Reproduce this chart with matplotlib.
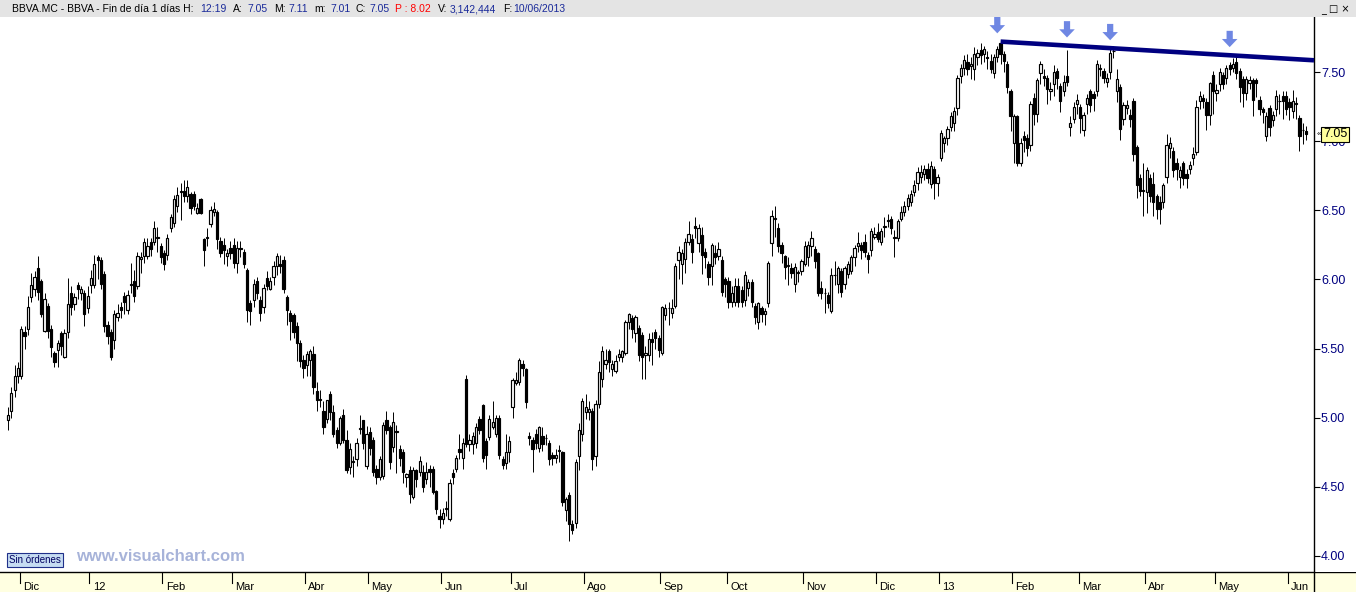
import matplotlib
matplotlib.use('Agg')
import numpy as np
import matplotlib.pyplot as plt
from matplotlib.patches import Rectangle

plt.rcParams['font.family'] = ['Liberation Sans', 'DejaVu Sans']

# BBVA.MC daily candles, 25/11/2011 - 10/06/2013 (one entry per trading day)
opens = [
    4.98, 5.05, 5.20, 5.30, 5.30, 5.62, 5.64, 5.87, 5.93, 6.08,
    5.99, 5.63, 5.81, 5.64, 5.47, 5.49, 5.61, 5.44, 5.62, 5.90,
    5.82, 5.96, 5.90, 5.90, 5.79, 5.96, 5.96, 6.16, 6.14, 6.04,
    5.67, 5.62, 5.56, 5.73, 5.80, 5.88, 5.78, 5.96, 5.99, 5.95,
    6.15, 6.17, 6.17, 6.27, 6.27, 6.30, 6.24, 6.19, 6.18, 6.37,
    6.41, 6.53, 6.63, 6.64, 6.60, 6.62, 6.62, 6.48, 6.58, 6.29,
    6.30, 6.40, 6.49, 6.49, 6.28, 6.25, 6.17, 6.23, 6.25, 6.12,
    6.23, 6.20, 6.07, 5.83, 5.85, 5.99, 5.85, 5.80, 6.01, 5.93,
    6.02, 6.10, 6.11, 6.14, 5.87, 5.76, 5.74, 5.66, 5.54, 5.42,
    5.38, 5.42, 5.46, 5.19, 5.13, 5.05, 4.99, 5.17, 5.04, 4.91,
    4.82, 5.02, 4.84, 4.64, 4.68, 4.70, 4.92, 4.98, 4.65, 4.90,
    4.84, 4.63, 4.57, 4.58, 4.98, 4.93, 4.79, 4.90, 4.77, 4.75,
    4.57, 4.62, 4.43, 4.62, 4.61, 4.61, 4.56, 4.63, 4.63, 4.47,
    4.29, 4.27, 4.34, 4.27, 4.60, 4.63, 4.77, 4.71, 5.28, 4.81,
    4.81, 4.82, 4.99, 5.09, 4.83, 4.86, 4.93, 4.88, 5.00, 4.70,
    4.67, 4.75, 5.08, 5.25, 5.26, 5.39, 5.35, 4.87, 4.84, 4.88,
    4.78, 4.87, 4.85, 4.82, 4.73, 4.71, 4.76, 4.75, 4.33, 4.44,
    4.23, 4.24, 4.72, 4.88, 5.04, 5.04, 5.05, 4.72, 5.10, 5.28,
    5.39, 5.48, 5.35, 5.34, 5.44, 5.44, 5.47, 5.69, 5.72, 5.61,
    5.65, 5.60, 5.45, 5.45, 5.57, 5.62, 5.58, 5.47, 5.74, 5.79,
    5.76, 5.81, 6.14, 6.11, 6.15, 6.27, 6.29, 6.39, 6.26, 6.32,
    6.20, 6.11, 6.10, 6.19, 6.17, 6.14, 6.00, 5.99, 5.84, 5.84,
    5.95, 5.92, 5.85, 5.94, 5.98, 5.81, 5.69, 5.79, 5.75, 5.83,
    6.26, 6.44, 6.37, 6.25, 6.17, 6.10, 6.08, 5.97, 6.05, 6.06,
    6.11, 6.16, 6.24, 6.22, 6.19, 5.94, 5.90, 5.89, 5.77, 6.03,
    5.97, 6.06, 5.97, 6.04, 6.06, 6.16, 6.24, 6.25, 6.27, 6.18,
    6.21, 6.31, 6.34, 6.27, 6.38, 6.43, 6.44, 6.30, 6.30, 6.44,
    6.49, 6.53, 6.56, 6.63, 6.70, 6.74, 6.76, 6.80, 6.69, 6.80,
    6.70, 6.88, 6.99, 7.02, 7.10, 7.13, 7.24, 7.47, 7.53, 7.57,
    7.54, 7.52, 7.61, 7.66, 7.63, 7.61, 7.58, 7.49, 7.61, 7.71,
    7.63, 7.56, 7.36, 6.99, 7.18, 6.84, 7.04, 7.02, 6.97, 7.31,
    7.20, 7.49, 7.47, 7.46, 7.36, 7.41, 7.51, 7.40, 7.36, 7.47,
    7.10, 7.16, 7.27, 7.25, 7.08, 7.27, 7.36, 7.34, 7.36, 7.52,
    7.51, 7.43, 7.50, 7.65, 7.36, 7.39, 7.16, 7.24, 7.19, 7.29,
    6.96, 6.73, 6.64, 6.63, 6.73, 6.69, 6.60, 6.56, 6.56, 6.74,
    6.95, 6.93, 6.84, 6.74, 6.84, 6.76, 6.80, 6.88, 6.92, 7.29,
    7.31, 7.28, 7.19, 7.48, 7.35, 7.41, 7.48, 7.46, 7.55, 7.53,
    7.57, 7.51, 7.45, 7.35, 7.42, 7.44, 7.44, 7.30, 7.23, 7.04,
    7.24, 7.15, 7.23, 7.29, 7.33, 7.33, 7.28, 7.22, 7.27, 7.17,
    7.08, 7.07,
]
highs = [
    5.08, 5.22, 5.38, 5.40, 5.66, 5.66, 5.88, 6.05, 6.06, 6.17,
    6.00, 5.90, 5.83, 5.67, 5.48, 5.56, 5.63, 5.64, 6.01, 5.95,
    5.90, 5.98, 5.95, 5.92, 5.95, 6.07, 6.18, 6.18, 6.16, 6.06,
    5.70, 5.64, 5.78, 5.82, 5.84, 5.91, 5.92, 6.12, 6.07, 6.20,
    6.20, 6.30, 6.30, 6.30, 6.42, 6.38, 6.26, 6.21, 6.33, 6.47,
    6.61, 6.67, 6.70, 6.72, 6.72, 6.63, 6.64, 6.55, 6.59, 6.30,
    6.37, 6.53, 6.56, 6.50, 6.31, 6.30, 6.22, 6.28, 6.30, 6.28,
    6.28, 6.22, 6.08, 5.85, 6.00, 6.02, 5.88, 5.97, 6.06, 6.02,
    6.13, 6.19, 6.18, 6.17, 5.89, 5.78, 5.76, 5.69, 5.56, 5.45,
    5.48, 5.50, 5.52, 5.26, 5.20, 5.12, 5.13, 5.19, 5.09, 4.93,
    5.01, 5.06, 4.91, 4.82, 4.72, 4.85, 5.02, 4.98, 4.94, 4.93,
    4.86, 4.66, 4.72, 4.97, 5.05, 4.95, 5.04, 4.95, 4.80, 4.77,
    4.60, 4.65, 4.64, 4.63, 4.72, 4.66, 4.68, 4.66, 4.65, 4.48,
    4.34, 4.35, 4.40, 4.56, 4.63, 4.73, 4.88, 4.85, 5.31, 4.88,
    4.90, 4.96, 5.01, 5.10, 4.85, 5.02, 5.12, 5.02, 5.02, 4.72,
    4.88, 4.87, 5.29, 5.33, 5.43, 5.42, 5.36, 4.90, 4.86, 4.92,
    4.94, 4.93, 4.88, 4.84, 4.75, 4.77, 4.80, 4.76, 4.43, 4.46,
    4.26, 4.70, 4.96, 5.14, 5.17, 5.12, 5.07, 5.13, 5.41, 5.52,
    5.50, 5.50, 5.42, 5.45, 5.50, 5.49, 5.71, 5.76, 5.74, 5.74,
    5.67, 5.62, 5.52, 5.61, 5.62, 5.64, 5.60, 5.81, 5.82, 5.84,
    5.86, 6.12, 6.24, 6.22, 6.30, 6.42, 6.33, 6.45, 6.40, 6.38,
    6.23, 6.13, 6.26, 6.25, 6.27, 6.17, 6.02, 6.02, 5.95, 6.01,
    6.01, 5.95, 6.06, 6.00, 6.00, 5.83, 5.84, 5.81, 5.79, 6.13,
    6.50, 6.53, 6.41, 6.27, 6.18, 6.16, 6.12, 6.12, 6.07, 6.15,
    6.28, 6.28, 6.35, 6.24, 6.20, 5.99, 5.94, 5.91, 6.08, 6.13,
    6.10, 6.08, 6.10, 6.13, 6.18, 6.25, 6.34, 6.27, 6.33, 6.20,
    6.37, 6.38, 6.41, 6.37, 6.45, 6.47, 6.46, 6.36, 6.44, 6.53,
    6.57, 6.62, 6.65, 6.72, 6.81, 6.83, 6.83, 6.84, 6.86, 6.82,
    6.76, 7.08, 7.04, 7.11, 7.21, 7.25, 7.48, 7.56, 7.62, 7.63,
    7.61, 7.68, 7.67, 7.71, 7.69, 7.65, 7.63, 7.63, 7.69, 7.73,
    7.65, 7.58, 7.38, 7.20, 7.19, 7.02, 7.07, 7.05, 7.29, 7.35,
    7.46, 7.58, 7.52, 7.48, 7.43, 7.55, 7.53, 7.42, 7.48, 7.66,
    7.18, 7.28, 7.34, 7.27, 7.21, 7.34, 7.38, 7.36, 7.59, 7.56,
    7.53, 7.49, 7.67, 7.69, 7.52, 7.41, 7.28, 7.30, 7.23, 7.31,
    6.97, 6.76, 6.84, 6.81, 6.76, 6.78, 6.62, 6.60, 6.70, 7.05,
    7.03, 6.96, 6.88, 6.82, 6.86, 6.80, 6.86, 6.96, 7.30, 7.36,
    7.34, 7.31, 7.43, 7.51, 7.41, 7.53, 7.50, 7.55, 7.57, 7.60,
    7.62, 7.53, 7.47, 7.47, 7.47, 7.46, 7.46, 7.33, 7.25, 7.21,
    7.26, 7.22, 7.37, 7.34, 7.36, 7.36, 7.31, 7.37, 7.32, 7.19,
    7.13, 7.11,
]
lows = [
    4.91, 5.00, 5.15, 5.25, 5.28, 5.50, 5.60, 5.84, 5.88, 5.85,
    5.73, 5.62, 5.58, 5.44, 5.37, 5.37, 5.45, 5.43, 5.58, 5.74,
    5.78, 5.86, 5.85, 5.66, 5.76, 5.90, 5.94, 6.00, 5.93, 5.62,
    5.53, 5.42, 5.50, 5.70, 5.72, 5.75, 5.75, 5.90, 5.84, 5.93,
    6.05, 6.12, 6.15, 6.17, 6.25, 6.20, 6.12, 6.07, 6.14, 6.34,
    6.38, 6.49, 6.43, 6.56, 6.56, 6.47, 6.50, 6.47, 6.47, 6.10,
    6.24, 6.38, 6.46, 6.22, 6.16, 6.11, 6.10, 6.15, 6.08, 6.05,
    6.16, 6.08, 5.69, 5.67, 5.80, 5.86, 5.70, 5.76, 5.92, 5.92,
    5.96, 6.03, 6.05, 5.90, 5.67, 5.56, 5.58, 5.41, 5.37, 5.29,
    5.30, 5.30, 5.17, 5.05, 5.08, 4.88, 4.96, 4.98, 4.86, 4.78,
    4.80, 4.82, 4.60, 4.59, 4.57, 4.65, 4.88, 4.77, 4.63, 4.73,
    4.58, 4.52, 4.55, 4.56, 4.88, 4.63, 4.75, 4.60, 4.65, 4.53,
    4.50, 4.38, 4.41, 4.50, 4.58, 4.46, 4.52, 4.50, 4.45, 4.30,
    4.20, 4.23, 4.29, 4.25, 4.52, 4.61, 4.70, 4.63, 4.79, 4.76,
    4.74, 4.78, 4.88, 4.68, 4.63, 4.84, 4.92, 4.86, 4.70, 4.63,
    4.63, 4.68, 5.00, 5.24, 5.24, 5.30, 5.07, 4.80, 4.61, 4.77,
    4.75, 4.76, 4.80, 4.66, 4.66, 4.67, 4.68, 4.36, 4.25, 4.11,
    4.16, 4.20, 4.62, 4.83, 4.99, 4.98, 4.62, 4.65, 5.07, 5.22,
    5.35, 5.33, 5.30, 5.32, 5.41, 5.40, 5.45, 5.64, 5.58, 5.55,
    5.41, 5.28, 5.28, 5.41, 5.38, 5.50, 5.44, 5.45, 5.71, 5.67,
    5.72, 5.79, 6.00, 5.97, 6.05, 6.25, 6.12, 6.30, 6.20, 6.04,
    6.08, 5.96, 5.96, 6.11, 6.14, 5.88, 5.87, 5.79, 5.80, 5.81,
    5.80, 5.80, 5.81, 5.88, 5.80, 5.68, 5.64, 5.69, 5.67, 5.80,
    6.17, 6.31, 6.20, 6.12, 6.00, 5.96, 6.01, 5.91, 5.98, 6.03,
    6.10, 6.10, 6.17, 6.08, 5.88, 5.86, 5.76, 5.79, 5.76, 5.96,
    5.90, 5.87, 5.93, 6.01, 6.04, 6.10, 6.20, 6.15, 6.16, 6.05,
    6.17, 6.29, 6.27, 6.25, 6.31, 6.38, 6.33, 6.16, 6.28, 6.42,
    6.46, 6.50, 6.53, 6.60, 6.65, 6.70, 6.72, 6.70, 6.66, 6.58,
    6.60, 6.86, 6.92, 6.97, 7.07, 7.07, 7.19, 7.42, 7.48, 7.48,
    7.45, 7.44, 7.55, 7.56, 7.57, 7.52, 7.49, 7.46, 7.57, 7.56,
    7.50, 7.35, 7.07, 6.84, 6.82, 6.82, 6.92, 6.89, 6.93, 7.12,
    7.14, 7.41, 7.40, 7.27, 7.30, 7.33, 7.38, 7.21, 7.33, 7.40,
    7.04, 7.13, 7.20, 7.06, 7.04, 7.20, 7.21, 7.22, 7.33, 7.47,
    7.42, 7.39, 7.45, 7.60, 7.28, 7.01, 7.12, 7.20, 7.10, 6.86,
    6.59, 6.60, 6.46, 6.48, 6.56, 6.46, 6.44, 6.40, 6.52, 6.70,
    6.88, 6.74, 6.72, 6.66, 6.68, 6.66, 6.76, 6.83, 6.90, 7.23,
    7.24, 7.08, 7.12, 7.20, 7.29, 7.36, 7.38, 7.41, 7.48, 7.50,
    7.45, 7.28, 7.25, 7.30, 7.38, 7.18, 7.32, 7.19, 7.13, 7.00,
    7.04, 7.11, 7.18, 7.20, 7.16, 7.19, 7.15, 7.17, 7.16, 6.93,
    6.98, 7.01,
]
closes = [
    5.02, 5.18, 5.30, 5.36, 5.64, 5.59, 5.80, 5.96, 6.02, 5.91,
    5.75, 5.86, 5.63, 5.51, 5.40, 5.54, 5.52, 5.61, 5.82, 5.80,
    5.87, 5.93, 5.93, 5.75, 5.88, 6.01, 6.11, 6.14, 5.97, 5.66,
    5.59, 5.44, 5.75, 5.76, 5.78, 5.84, 5.89, 5.97, 5.88, 6.17,
    6.16, 6.27, 6.24, 6.22, 6.37, 6.31, 6.16, 6.11, 6.30, 6.45,
    6.58, 6.61, 6.64, 6.60, 6.67, 6.52, 6.53, 6.52, 6.48, 6.21,
    6.30, 6.50, 6.51, 6.29, 6.19, 6.21, 6.19, 6.19, 6.12, 6.23,
    6.22, 6.11, 5.78, 5.77, 5.97, 5.90, 5.76, 5.94, 5.95, 5.99,
    6.10, 6.17, 6.10, 5.93, 5.78, 5.70, 5.62, 5.54, 5.41, 5.36,
    5.46, 5.48, 5.22, 5.13, 5.13, 4.93, 5.13, 5.04, 4.88, 4.82,
    5.00, 4.84, 4.62, 4.77, 4.69, 4.82, 4.92, 4.82, 4.88, 4.78,
    4.61, 4.57, 4.70, 4.95, 4.91, 4.68, 4.97, 4.90, 4.71, 4.61,
    4.59, 4.45, 4.62, 4.56, 4.69, 4.50, 4.61, 4.61, 4.46, 4.34,
    4.27, 4.31, 4.35, 4.53, 4.57, 4.71, 4.75, 4.82, 4.81, 4.84,
    4.87, 4.93, 4.91, 4.71, 4.73, 4.99, 4.97, 5.00, 4.73, 4.66,
    4.75, 4.83, 5.27, 5.27, 5.42, 5.36, 5.11, 4.85, 4.77, 4.82,
    4.93, 4.81, 4.85, 4.70, 4.71, 4.73, 4.76, 4.39, 4.41, 4.23,
    4.19, 4.68, 4.91, 5.12, 5.08, 5.06, 4.70, 5.10, 5.33, 5.48,
    5.42, 5.40, 5.39, 5.41, 5.46, 5.48, 5.69, 5.75, 5.64, 5.73,
    5.45, 5.44, 5.47, 5.57, 5.55, 5.58, 5.49, 5.80, 5.79, 5.79,
    5.79, 6.10, 6.20, 6.19, 6.27, 6.33, 6.20, 6.37, 6.37, 6.18,
    6.16, 6.02, 6.25, 6.16, 6.22, 5.91, 5.97, 5.84, 5.90, 5.95,
    5.84, 5.84, 6.03, 5.98, 5.84, 5.73, 5.83, 5.75, 5.77, 6.12,
    6.46, 6.44, 6.24, 6.19, 6.09, 6.10, 6.05, 6.09, 6.05, 6.13,
    6.24, 6.25, 6.30, 6.13, 5.90, 5.90, 5.90, 5.83, 6.03, 6.03,
    6.08, 5.91, 6.08, 6.11, 6.16, 6.23, 6.26, 6.21, 6.20, 6.15,
    6.35, 6.33, 6.29, 6.35, 6.38, 6.42, 6.37, 6.30, 6.42, 6.49,
    6.53, 6.59, 6.62, 6.68, 6.78, 6.78, 6.80, 6.73, 6.82, 6.70,
    6.74, 7.06, 7.02, 7.09, 7.18, 7.22, 7.46, 7.53, 7.59, 7.52,
    7.56, 7.63, 7.64, 7.62, 7.67, 7.60, 7.52, 7.61, 7.67, 7.63,
    7.58, 7.39, 7.18, 7.18, 6.84, 6.99, 7.01, 6.95, 7.27, 7.20,
    7.44, 7.56, 7.46, 7.38, 7.38, 7.50, 7.46, 7.29, 7.43, 7.43,
    7.13, 7.25, 7.30, 7.17, 7.19, 7.31, 7.26, 7.31, 7.56, 7.53,
    7.46, 7.46, 7.64, 7.65, 7.45, 7.09, 7.26, 7.26, 7.16, 6.91,
    6.68, 6.64, 6.64, 6.79, 6.60, 6.56, 6.51, 6.51, 6.68, 6.97,
    6.99, 6.79, 6.80, 6.79, 6.73, 6.73, 6.83, 6.91, 7.25, 7.33,
    7.29, 7.19, 7.42, 7.36, 7.37, 7.50, 7.41, 7.53, 7.52, 7.56,
    7.49, 7.39, 7.35, 7.45, 7.44, 7.30, 7.42, 7.23, 7.21, 7.18,
    7.10, 7.19, 7.33, 7.29, 7.29, 7.23, 7.25, 7.29, 7.27, 7.04,
    7.08, 7.05,
]

# first trading day of each month (candle index) and its label
month_starts = [4, 25, 47, 68, 90, 109, 131, 152, 174, 197, 217, 240, 262, 281, 303, 323, 343, 364, 386]
month_labels = ['Dic', '12', 'Feb', 'Mar', 'Abr', 'May', 'Jun', 'Jul', 'Ago', 'Sep',
                'Oct', 'Nov', 'Dic', '13', 'Feb', 'Mar', 'Abr', 'May', 'Jun']

# resistance line and marker arrows
trend_x = [299, 393.4]
trend_y = [7.72, 7.585]
arrow_idx = [298, 319, 332, 368]
arrow_tip = [7.78, 7.75, 7.73, 7.68]

price_ticks = [4.0, 4.5, 5.0, 5.5, 6.0, 6.5, 7.0, 7.5]
last_price = 7.05

o = np.array(opens)
h = np.array(highs)
l = np.array(lows)
c = np.array(closes)
idx = np.arange(len(c))

W, H = 1356, 592
fig = plt.figure(figsize=(W / 100, H / 100), dpi=100)
fig.patch.set_facecolor('white')

ax_l, ax_r, ax_b, ax_t = 0, 1314, 572, 17
ax = fig.add_axes([ax_l / W, (H - ax_b) / H, (ax_r - ax_l) / W, (ax_b - ax_t) / H])
x0, x1 = -2.41, 393.4
ax.set_xlim(x0, x1)
ax.set_ylim(3.884, 7.898)

# candles
ax.vlines(idx, l, h, color='black', linewidth=0.7, zorder=2)
body_lo = np.minimum(o, c)
body_h = np.maximum(np.abs(c - o), 0.004)
fills = np.where(c >= o, 'white', 'black')
ax.bar(idx, body_h, bottom=body_lo, width=0.68, color=fills,
       edgecolor='black', linewidth=0.85, zorder=3)

# resistance line
ax.plot(trend_x, trend_y, color='#000080', linewidth=3.3, solid_capstyle='butt', zorder=4)
for ai, at in zip(arrow_idx, arrow_tip):
    ax.annotate('', xy=(ai, at), xytext=(ai, at + 0.118), annotation_clip=False,
                arrowprops=dict(arrowstyle='simple,head_length=0.42,head_width=0.8,tail_width=0.32',
                                mutation_scale=14, shrinkA=0, shrinkB=0,
                                color='#6f87e3', lw=0), zorder=5)

# axis styling
for s in ['left', 'top']:
    ax.spines[s].set_visible(False)
ax.spines['right'].set_linewidth(1.0)
ax.spines['bottom'].set_linewidth(1.0)
ax.set_xticks([])
ax.yaxis.tick_right()
ax.set_yticks(price_ticks)
ax.set_yticklabels(['%.2f' % p for p in price_ticks])
ax.tick_params(axis='y', direction='out', length=4, width=0.8, color='black',
               labelcolor='#000080', labelsize=9, pad=1)

# last price tag
ax.text(1.0068, last_price, '%.2f' % last_price, transform=ax.get_yaxis_transform(),
        ha='left', va='center', fontsize=9, color='black', zorder=10, clip_on=False,
        bbox=dict(boxstyle='square,pad=0.12', facecolor='#ffff9c', edgecolor='black', linewidth=0.8))
ax.text(1.002, last_price, '«', transform=ax.get_yaxis_transform(), ha='left', va='center',
        fontsize=6, color='black', zorder=10, clip_on=False)

# watermark and orders box
ax.text(9 / 1314, 7 / 555, 'Sin órdenes', transform=ax.transAxes, fontsize=7, color='#000060',
        ha='left', va='bottom', zorder=6,
        bbox=dict(boxstyle='square,pad=0.2', facecolor='#c6dcf2', edgecolor='#20308a', linewidth=0.8))
ax.text(76 / 1314, 8 / 555, 'www.visualchart.com', transform=ax.transAxes, fontsize=12,
        fontweight='bold', color='#a7b3d9', ha='left', va='bottom', zorder=6)

# bottom date band
bx = fig.add_axes([0, 0, 1, (H - ax_b) / H])
bx.set_facecolor('#ffffe1')
bx.set_xlim(x0, x0 + (x1 - x0) * W / (ax_r - ax_l))
bx.set_ylim(0, 1)
bx.set_xticks([])
bx.set_yticks([])
for s in bx.spines.values():
    s.set_visible(False)
for mi, ml in zip(month_starts, month_labels):
    bx.plot([mi - 0.5, mi - 0.5], [0.45, 1.0], color='black', linewidth=0.8)
    bx.text(mi + 0.5, 0.12, ml, fontsize=8, color='black', ha='left', va='baseline')
bx.plot([x1, x1], [0, 1], color='black', linewidth=1.0)
bx.plot([x0, x0 + (x1 - x0) * W / (ax_r - ax_l)], [1, 1], color='black', linewidth=1.0)

# title bar
fig.patches.append(Rectangle((0, 1 - ax_t / H), 1, ax_t / H, transform=fig.transFigure,
                             facecolor='#e4e4e4', edgecolor='none', zorder=0))
pieces = [
    (12, 'BBVA.MC - BBVA - Fin de día 1 días H:', 'black'),
    (200, '12:19', '#1a2a9a'), (233, 'A:', 'black'), (247, '7.05', '#1a2a9a'),
    (274, 'M:', 'black'), (288, '7.11', '#1a2a9a'), (314, 'm:', 'black'),
    (330, '7.01', '#1a2a9a'), (356, 'C:', 'black'), (369, '7.05', '#1a2a9a'),
    (395, 'P : 8.02', '#ff0000'), (438, 'V:', 'black'), (450, '3,142,444', '#1a2a9a'),
    (503, 'F:', 'black'), (513, '10/06/2013', '#1a2a9a'),
]
for px, txt, col in pieces:
    fig.text(px / W, 1 - 12 / H, txt, fontsize=7.5, color=col, ha='left', va='baseline')
fig.text(1321 / W, 1 - 12 / H, '_ □ ×', fontsize=7, color='black', ha='left', va='baseline',
         family=['DejaVu Sans'])

fig.savefig('out.png', dpi=100)
